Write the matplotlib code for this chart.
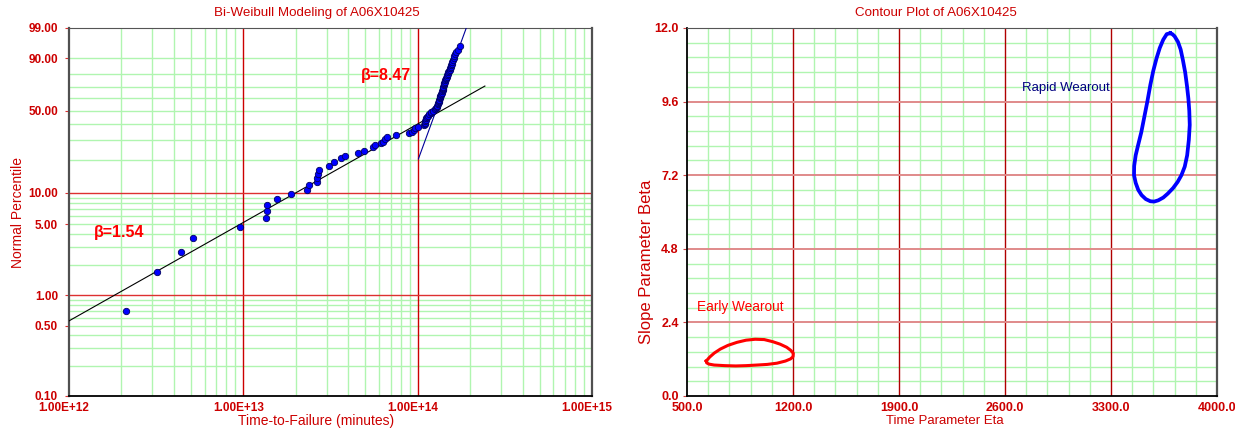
import numpy as np
import matplotlib.pyplot as plt
from matplotlib.ticker import FixedLocator, LogLocator, NullFormatter, MultipleLocator
from matplotlib.transforms import ScaledTranslation

plt.rcParams['font.family'] = ['Liberation Sans Narrow', 'Liberation Sans', 'DejaVu Sans']

# failure data: time in units of 1e13 minutes, cumulative percent
fail_time = [0.212, 0.319, 0.438, 0.516, 0.953, 1.35, 1.37, 1.37, 1.56, 1.88,
             2.32, 2.37, 2.63, 2.66, 2.69, 2.70, 3.08, 3.30, 3.64, 3.84,
             4.56, 4.93, 5.53, 5.71, 6.15, 6.34, 6.50, 6.69, 7.50, 8.87,
             9.24, 9.50, 9.64, 10.0,
             10.9, 10.95, 11.0, 11.05, 11.1, 11.2, 11.35, 11.5, 11.65, 11.85,
             12.0, 12.25, 12.5, 12.7, 12.85, 12.95, 13.05, 13.15, 13.2, 13.25,
             13.3, 13.35, 13.4, 13.5, 13.55, 13.65, 13.75, 13.85, 13.9, 13.95,
             14.0, 14.0, 14.1, 14.15, 14.2, 14.3, 14.4, 14.5, 14.6, 14.7,
             14.8, 14.85, 14.95, 15.1, 15.25, 15.4, 15.5, 15.6, 15.7, 15.8,
             15.95, 16.1, 16.25, 16.45, 16.7, 17.0, 17.55]
fail_pct = [0.70, 1.69, 2.68, 3.67, 4.70, 5.71, 6.71, 7.71, 8.73, 9.75,
            10.7, 11.8, 12.7, 13.9, 15.1, 16.4, 17.8, 19.3, 21.0, 21.9,
            22.9, 24.2, 26.0, 27.0, 28.0, 28.9, 30.2, 31.7, 32.9, 33.8,
            34.8, 35.8, 37.0, 38.0,
            39, 40, 41, 42, 43, 44, 45, 46, 47, 48,
            49, 50, 51, 52, 53, 54, 55, 56, 57, 58,
            59, 60, 61, 62, 63, 64, 65, 66, 67, 68,
            69, 70, 71, 72, 73, 74, 75, 76, 77, 78,
            79, 80, 81, 82, 83, 84, 85, 86, 87, 88,
            89, 90, 91, 92, 93, 94, 95.4]

# fitted lines (end points)
early_fit_time = [1.0e12, 2.43e14]
early_fit_pct = [0.558, 70.4]
rapid_fit_time = [1.01e14, 1.90e14]
rapid_fit_pct = [20.5, 99.0]

# contour loops (eta, beta)
rapid_eta = [3691, 3668, 3645, 3622, 3600, 3579, 3560, 3540, 3520, 3500,
             3480, 3463, 3453, 3452, 3463, 3480, 3502, 3530, 3560, 3585,
             3612, 3645, 3675, 3710, 3740, 3765, 3787, 3803, 3814, 3820,
             3817, 3811, 3802, 3790, 3775, 3760, 3742, 3720, 3705, 3691]
rapid_beta = [11.83, 11.80, 11.62, 11.35, 11.0, 10.6, 10.15, 9.6, 9.1, 8.6,
              8.2, 7.85, 7.5, 7.2, 6.95, 6.72, 6.55, 6.42, 6.35, 6.34,
              6.38, 6.47, 6.6, 6.78, 6.98, 7.2, 7.48, 7.85, 8.35, 8.84,
              9.3, 9.7, 10.1, 10.55, 10.95, 11.3, 11.55, 11.73, 11.8, 11.83]
early_eta = [627, 650, 680, 720, 770, 830, 890, 950, 1010, 1067, 1115, 1158, 1185,
             1202, 1200, 1184, 1150, 1094, 1030, 964, 890, 822, 750, 679, 645, 630, 627]
early_beta = [1.14, 1.27, 1.40, 1.53, 1.65, 1.75, 1.82, 1.85, 1.84, 1.77, 1.69, 1.59, 1.49,
              1.39, 1.28, 1.21, 1.14, 1.07, 1.03, 1.01, 0.99, 0.98, 0.99, 1.01, 1.04, 1.08, 1.14]

pct_ticks = [0.1, 0.5, 1, 5, 10, 50, 90, 99]
pct_red = [1, 10]
pct_green = [0.2, 0.3, 0.4, 0.5, 0.6, 0.7, 0.8, 0.9, 2, 3, 4, 5, 6, 7, 8, 9,
             20, 30, 40, 50, 60, 70, 80, 90]
eta_ticks = [500, 1200, 1900, 2600, 3300, 4000]
beta_ticks = [0, 2.4, 4.8, 7.2, 9.6, 12]

TXT = '#cc0000'
GREEN = '#b0f5b0'


def weib_fwd(p):
    p = np.clip(np.asarray(p, dtype=float), 1e-6, 99.99999)
    return np.log(-np.log(1 - p / 100.0))


def weib_inv(y):
    return 100.0 * (1 - np.exp(-np.exp(y)))


fig = plt.figure(figsize=(12.35, 4.3), dpi=100)
ax1 = fig.add_axes([69 / 1235, 34 / 430, 523 / 1235, 368 / 430])
ax2 = fig.add_axes([687 / 1235, 34 / 430, 530 / 1235, 368 / 430])

# ---- left: Weibull plot ----
ax1.set_xscale('log')
ax1.set_yscale('function', functions=(weib_fwd, weib_inv))
ax1.set_xlim(1e12, 1e15)
ax1.set_ylim(0.1, 99)

ax1.xaxis.set_major_locator(FixedLocator([1e12, 1e13, 1e14, 1e15]))
ax1.xaxis.set_minor_locator(LogLocator(base=10, subs=np.arange(2, 10)))
ax1.xaxis.set_minor_formatter(NullFormatter())
ax1.set_xticklabels(['1.00E+12', '1.00E+13', '1.00E+14', '1.00E+15'])
ax1.yaxis.set_major_locator(FixedLocator(pct_ticks))
ax1.yaxis.set_minor_locator(FixedLocator([]))
ax1.set_yticklabels(['%.2f' % v for v in pct_ticks])

ax1.grid(True, which='minor', axis='x', color=GREEN, lw=1, zorder=0)
for v in pct_green:
    ax1.axhline(v, color=GREEN, lw=1, zorder=0.5)
for v in [1e13, 1e14]:
    ax1.axvline(v, color='#cc0000', lw=1, zorder=1)
for v in pct_red:
    ax1.axhline(v, color='#dd3030', lw=1, zorder=1)

ax1.plot(early_fit_time, early_fit_pct, color='black', lw=0.8, zorder=3)
ax1.plot(rapid_fit_time, rapid_fit_pct, color='#000099', lw=0.8, zorder=3)
ax1.plot(np.array(fail_time) * 1e13, fail_pct, 'o', color='#0000ff', ms=4.6,
         mec='#000060', mew=0.6, zorder=4)

ax1.text(1.95e12, 4.15, 'β=1.54', color='#ff0000', fontsize=11.5, fontweight='bold',
         ha='center', va='center')
ax1.text(6.6e13, 78.5, 'β=8.47', color='#ff0000', fontsize=11.5, fontweight='bold',
         ha='center', va='center')

# ---- right: contour plot ----
ax2.set_xlim(500, 4000)
ax2.set_ylim(0, 12)
ax2.set_xticks(eta_ticks)
ax2.set_xticklabels(['%.1f' % v for v in eta_ticks])
ax2.set_yticks(beta_ticks)
ax2.set_yticklabels(['%.1f' % v for v in beta_ticks])
ax2.xaxis.set_minor_locator(MultipleLocator(140, offset=80))
ax2.yaxis.set_minor_locator(MultipleLocator(0.48))
ax2.grid(True, which='minor', color=GREEN, lw=1, zorder=0)
for v in eta_ticks[1:-1]:
    ax2.axvline(v, color='#b00000', lw=1, zorder=1)
for v in beta_ticks[1:-1]:
    ax2.axhline(v, color='#e08a8a', lw=1.4, zorder=1)

ax2.plot(rapid_eta, rapid_beta, color='#0000ff', lw=2.7, solid_joinstyle='round', zorder=3)
ax2.plot(early_eta, early_beta, color='#ff0000', lw=2.2, solid_joinstyle='round', zorder=3)
ax2.text(3000, 10.05, 'Rapid Wearout', color='#000080', fontsize=9.5, ha='center', va='center')
ax2.text(850, 2.9, 'Early Wearout', color='#ff0000', fontsize=9.8, ha='center', va='center')

for ax, lsize in ((ax1, 8.5), (ax2, 9)):
    ax.set_axisbelow(True)
    ax.tick_params(axis='both', which='both', labelcolor=TXT, labelsize=lsize)
    ax.tick_params(axis='x', which='both', length=0, pad=4)
    ax.tick_params(axis='y', which='minor', length=0)
    for lab in ax.get_xticklabels() + ax.get_yticklabels():
        lab.set_fontweight('bold')
    ax.spines['bottom'].set_color('black')
    ax.spines['bottom'].set_linewidth(1.3)
    ax.spines['top'].set_color('#555555')
    ax.spines['top'].set_linewidth(0.8)
    ax.spines['right'].set_color('#505050')
    ax.spines['right'].set_linewidth(1.6)

ax1.spines['left'].set_color('#505050')
ax1.spines['left'].set_linewidth(1.6)
ax1.tick_params(axis='y', which='major', length=3, color='#dd3030', pad=5)
ax2.spines['left'].set_color('black')
ax2.spines['left'].set_linewidth(1.3)
ax2.tick_params(axis='y', which='major', length=3, color='#cc4444', pad=3)

shift = ScaledTranslation(-5 / 100, 0, fig.dpi_scale_trans)
for lab in ax1.get_xticklabels():
    lab.set_transform(lab.get_transform() + shift)

fig.text(317 / 1235, 1 - 13 / 430, 'Bi-Weibull Modeling of A06X10425', color=TXT,
         fontsize=9.6, ha='center', va='center')
fig.text(936 / 1235, 1 - 13 / 430, 'Contour Plot of A06X10425', color=TXT,
         fontsize=9.6, ha='center', va='center')
fig.text(316 / 1235, 1 - 421 / 430, 'Time-to-Failure (minutes)', color=TXT,
         fontsize=10, ha='center', va='center')
fig.text(945 / 1235, 1 - 421 / 430, 'Time Parameter Eta', color=TXT,
         fontsize=9.5, ha='center', va='center')
fig.text(18 / 1235, 1 - 212 / 430, 'Normal Percentile', color=TXT, fontsize=10,
         rotation=90, ha='center', va='center')
fig.text(646 / 1235, 1 - 262 / 430, 'Slope Parameter Beta', color=TXT, fontsize=12,
         rotation=90, ha='center', va='center')

fig.savefig('out.png', dpi=100)
